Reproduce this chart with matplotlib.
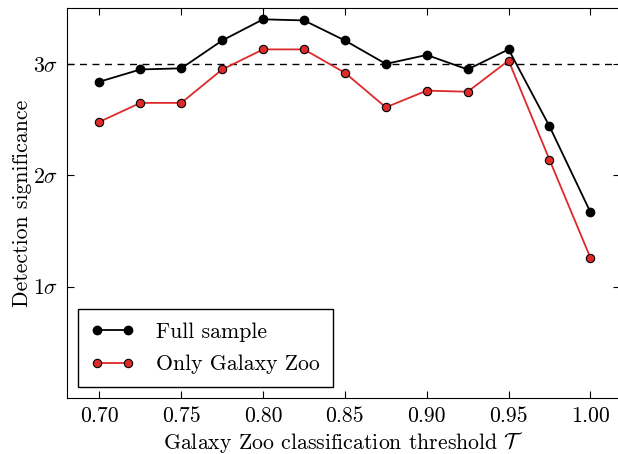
import numpy as np
import matplotlib
matplotlib.use("Agg")
import matplotlib.pyplot as plt

# Detection significance vs Galaxy Zoo classification threshold
thresholds = [0.700, 0.725, 0.750, 0.775, 0.800, 0.825, 0.850,
              0.875, 0.900, 0.925, 0.950, 0.975, 1.000]
full_sample = [2.84, 2.95, 2.96, 3.21, 3.40, 3.39, 3.21,
               3.00, 3.08, 2.95, 3.13, 2.44, 1.67]
only_gz = [2.48, 2.65, 2.65, 2.95, 3.13, 3.13, 2.92,
           2.61, 2.76, 2.75, 3.03, 2.14, 1.26]

xticks = [0.70, 0.75, 0.80, 0.85, 0.90, 0.95, 1.00]
yticks = [1, 2, 3]
ytick_labels = [r"$1\sigma$", r"$2\sigma$", r"$3\sigma$"]

plt.rcParams["font.family"] = "serif"
plt.rcParams["font.serif"] = ["cmr10", "DejaVu Serif"]
plt.rcParams["mathtext.fontset"] = "cm"
plt.rcParams["axes.unicode_minus"] = False

fs = 15.7

fig = plt.figure(figsize=(6.18, 4.54), dpi=100)
# right edge of the axes sits just past the figure, as in the original crop
ax = fig.add_axes([0.108, 0.123, 0.895, 0.859])

ax.axhline(3, color="black", ls=(0, (5, 4)), lw=1.0, zorder=1)

ax.plot(thresholds, full_sample, "-o", color="black", lw=1.3,
        ms=6, mec="black", mfc="black", label="Full sample", zorder=3)
ax.plot(thresholds, only_gz, "-o", color="#dd2a2a", lw=1.3,
        ms=6, mec="black", mew=0.8, mfc="#dd2a2a", label="Only Galaxy Zoo", zorder=3)

ax.set_xlim(0.68, 1.018)
ax.set_ylim(0, 3.5)
ax.set_xticks(xticks)
ax.set_xticklabels(["%.2f" % t for t in xticks])
ax.set_yticks(yticks)
ax.set_yticklabels(ytick_labels)
ax.tick_params(direction="in", top=True, right=True, length=5, width=0.8,
               labelsize=fs, pad=6)

ax.set_xlabel(r"Galaxy Zoo classification threshold $\mathcal{T}$", fontsize=fs, labelpad=3)
ax.set_ylabel("Detection significance", fontsize=fs, labelpad=1)

leg = ax.legend(loc="lower left", fontsize=fs, numpoints=2, handlelength=2.0,
                fancybox=False, edgecolor="black", framealpha=1,
                borderpad=0.6, labelspacing=0.6, handletextpad=1.0,
                bbox_to_anchor=(0.0, 0.0))
leg.get_frame().set_linewidth(1.0)

fig.savefig("out.png", dpi=100)
